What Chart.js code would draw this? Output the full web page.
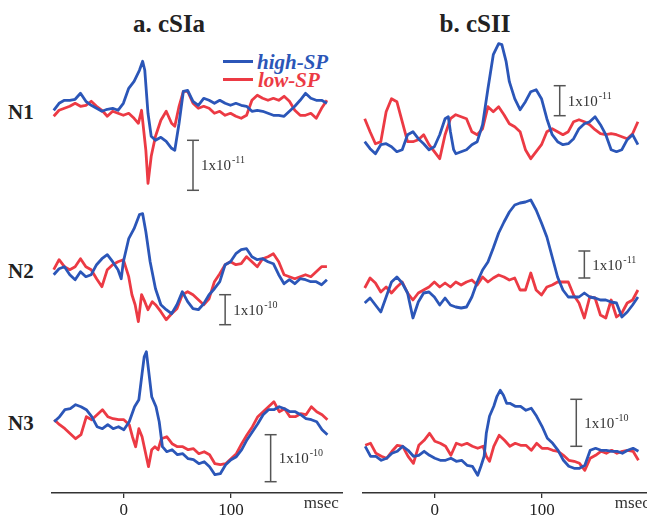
<!DOCTYPE html>
<html>
<head>
<meta charset="utf-8">
<script src="https://cdn.jsdelivr.net/npm/chart.js@4.4.1/dist/chart.umd.min.js"></script>
<style>
body{margin:0;width:647px;height:518px;overflow:hidden;background:#fff;position:relative;font-family:"Liberation Serif",serif}
.box{position:absolute}
.lab{position:absolute;font-weight:bold;color:#222;line-height:1;white-space:nowrap;transform:translateY(-50%)}
.title{position:absolute;font-weight:bold;color:#222;font-size:25px;line-height:1;white-space:nowrap;transform:translate(-50%,-50%)}
.key{position:absolute;height:2.5px;width:30px}
.keytxt{position:absolute;font-style:italic;font-weight:bold;font-size:21px;line-height:1;transform:translateY(-50%)}
</style>
</head>
<body>
<div class="title" style="left:169px;top:23px">a. cSIa</div>
<div class="title" style="left:475px;top:23px">b. cSII</div>
<div class="lab" style="left:8px;top:112px;font-size:21px">N1</div>
<div class="lab" style="left:8px;top:271px;font-size:21px">N2</div>
<div class="lab" style="left:8px;top:423px;font-size:21px">N3</div>
<div class="key" style="left:223px;top:60px;background:#2b56b8"></div>
<div class="keytxt" style="left:257px;top:62px;color:#2b56b8">high-SP</div>
<div class="key" style="left:223px;top:78px;background:#ec3a44"></div>
<div class="keytxt" style="left:258px;top:80px;color:#ec3a44">low-SP</div>
<script>
const BLUE = '#2b56b8';
const RED = '#ec3a44';

// [msec, amplitude] pairs, amplitude in each panel's own units
const n1aHigh = [[-65,-2],[-60,5],[-55,8],[-50,8],[-45,9],[-40,15],[-35,7],[-30,3],[-25,0],[-20,-3],[-15,-1],[-10,0],[-5,-2],[0,5],[5,20],[10,27],[15,38],[18,47],[20,38],[23,-5],[26,-28],[30,-32],[35,-29],[40,-33],[45,-40],[48,-42],[52,-15],[56,17],[60,18],[65,7],[70,3],[75,10],[80,8],[85,5],[90,8],[95,5],[100,3],[105,5],[110,3],[115,2],[120,-3],[125,-2],[130,-3],[135,-5],[140,-7],[145,-7],[150,-8],[155,-3],[160,2],[165,8],[170,15],[175,10],[180,8],[185,8],[190,5]];
const n1aLow = [[-65,-8],[-60,-2],[-55,0],[-50,2],[-45,5],[-40,2],[-35,3],[-30,7],[-25,2],[-20,-2],[-15,-8],[-10,-3],[-5,-5],[0,-7],[5,-5],[10,-10],[14,-15],[17,-2],[21,-42],[23,-75],[26,-48],[30,-28],[35,-12],[40,-3],[45,-15],[48,-18],[52,2],[56,17],[60,17],[65,5],[70,0],[75,2],[80,0],[85,-5],[90,-3],[95,-7],[100,-5],[105,-8],[110,-10],[115,-7],[120,8],[125,13],[130,10],[135,8],[140,10],[145,8],[150,12],[155,7],[160,-2],[165,-7],[170,-7],[175,-5],[180,-10],[185,0],[190,8]];

const n1bHigh = [[-65,0],[-60,-7],[-55,-12],[-50,-3],[-45,-2],[-40,-5],[-35,-10],[-30,-8],[-25,7],[-20,10],[-15,3],[-10,-2],[-5,-8],[0,-5],[5,7],[10,23],[13,25],[15,10],[18,-8],[20,-12],[25,-10],[30,-8],[35,-3],[40,0],[45,17],[50,53],[55,87],[60,98],[63,97],[67,80],[70,60],[75,43],[80,32],[85,40],[90,50],[95,52],[100,43],[105,23],[110,7],[115,0],[120,-3],[125,-2],[130,3],[135,13],[140,18],[145,20],[150,25],[155,17],[160,7],[165,-8],[170,-10],[175,-8],[180,2],[185,7],[190,-3]];
const n1bLow = [[-65,23],[-60,10],[-55,-2],[-50,0],[-45,30],[-40,43],[-35,40],[-30,20],[-25,0],[-20,0],[-15,2],[-10,7],[-5,-3],[0,-10],[5,-17],[10,7],[15,23],[20,27],[25,25],[30,23],[35,10],[40,7],[45,13],[50,35],[55,30],[60,35],[65,27],[70,18],[75,15],[80,10],[85,-8],[90,-17],[95,-10],[100,-3],[105,10],[110,13],[115,10],[120,7],[125,10],[130,20],[135,22],[140,20],[145,17],[150,12],[155,8],[160,7],[165,8],[170,7],[175,5],[180,3],[185,8],[190,20]];

const n2aHigh = [[-65,-3],[-60,3],[-55,5],[-50,-3],[-45,-8],[-40,0],[-35,-5],[-30,-3],[-25,7],[-20,13],[-15,17],[-10,10],[-5,2],[-2,-7],[0,10],[5,33],[10,43],[15,57],[18,58],[21,40],[25,10],[30,-17],[35,-33],[40,-38],[45,-42],[50,-33],[55,-20],[60,-30],[65,-37],[70,-38],[75,-32],[80,-23],[85,-17],[90,-10],[95,7],[100,10],[105,18],[110,22],[115,23],[120,15],[125,12],[130,13],[135,10],[140,8],[145,-3],[150,-12],[155,-8],[160,-12],[165,-7],[170,-8],[175,-10],[180,-10],[185,-13],[190,-8]];
const n2aLow = [[-65,2],[-60,12],[-55,5],[-50,2],[-45,5],[-40,13],[-35,5],[-30,2],[-25,-7],[-20,-15],[-15,2],[-10,7],[-5,10],[0,12],[5,-5],[8,-23],[11,-33],[14,-50],[17,-23],[20,-30],[23,-38],[27,-30],[30,-33],[35,-40],[40,-48],[45,-42],[50,-37],[55,-23],[60,-20],[65,-23],[70,-28],[75,-33],[80,-27],[85,-10],[90,-2],[95,7],[100,10],[105,7],[110,8],[115,15],[120,10],[125,5],[130,13],[135,15],[140,18],[145,10],[150,-3],[155,-5],[160,-7],[165,-5],[170,-3],[175,-5],[180,0],[185,5],[190,5]];

const n2bHigh = [[-65,-13],[-60,-8],[-55,-15],[-50,-22],[-45,-7],[-40,8],[-35,13],[-30,7],[-25,-3],[-20,-28],[-15,-12],[-10,-3],[-5,-2],[0,-7],[5,-15],[10,-8],[15,-15],[20,-17],[25,-18],[30,-17],[35,-7],[40,8],[45,20],[50,28],[55,42],[60,57],[65,68],[70,78],[75,85],[80,87],[85,88],[90,90],[95,80],[100,67],[105,53],[110,33],[115,13],[120,0],[125,-7],[130,-7],[135,-7],[140,-3],[145,-7],[150,-8],[155,-10],[160,-10],[165,-12],[170,-13],[175,-27],[180,-22],[185,-15],[190,-7]];
const n2bLow = [[-65,2],[-60,12],[-55,7],[-50,-2],[-45,3],[-40,-3],[-35,3],[-30,8],[-25,-3],[-20,-10],[-15,-3],[-10,0],[-5,3],[0,8],[5,3],[10,7],[15,3],[20,8],[25,5],[30,8],[35,10],[40,5],[45,13],[50,8],[55,12],[60,15],[65,13],[70,10],[75,12],[80,0],[85,0],[90,17],[95,0],[100,-5],[105,3],[110,5],[115,8],[120,8],[125,8],[130,-5],[135,-13],[140,-28],[145,-7],[150,-8],[155,-25],[160,-28],[165,-10],[170,-27],[175,-23],[180,-13],[185,-10],[190,0]];

const n3aHigh = [[-65,0],[-60,5],[-55,12],[-50,13],[-45,17],[-40,15],[-35,12],[-30,5],[-25,-5],[-20,-7],[-15,-3],[-10,-7],[-5,-5],[0,-8],[5,0],[10,15],[14,22],[17,48],[19,65],[21,70],[23,52],[26,25],[30,15],[33,0],[36,-25],[40,-30],[45,-28],[50,-33],[55,-32],[60,-37],[65,-38],[70,-42],[75,-40],[80,-45],[85,-53],[90,-52],[95,-43],[100,-38],[105,-35],[110,-28],[115,-18],[120,-10],[125,-2],[130,7],[135,12],[140,12],[145,15],[150,13],[155,10],[160,10],[165,7],[170,3],[175,2],[180,0],[185,-8],[190,-13]];
const n3aLow = [[-65,2],[-60,-3],[-55,-7],[-50,-12],[-45,-17],[-40,-13],[-35,5],[-30,2],[-25,7],[-20,12],[-15,5],[-10,3],[-5,2],[0,2],[5,-3],[8,-15],[11,-25],[14,-7],[17,-15],[20,-30],[23,-45],[26,-28],[29,-25],[32,-28],[35,-17],[40,-15],[45,-22],[50,-25],[55,-25],[60,-28],[65,-27],[70,-32],[75,-30],[80,-33],[85,-42],[90,-43],[95,-42],[100,-37],[105,-32],[110,-22],[115,-13],[120,-5],[125,5],[130,10],[135,15],[140,20],[145,10],[150,13],[155,5],[160,5],[165,8],[170,7],[175,15],[180,10],[185,7],[190,2]];

const n3bHigh = [[-65,7],[-60,-3],[-55,-3],[-50,-7],[-45,-5],[-40,0],[-35,2],[-30,7],[-25,3],[-20,-3],[-15,-2],[-10,2],[-5,-2],[0,-5],[5,-7],[10,-7],[15,-5],[20,-8],[25,-7],[30,-12],[35,-13],[40,-22],[43,-13],[46,-3],[48,20],[51,37],[55,47],[58,57],[61,63],[64,58],[67,50],[70,50],[75,47],[80,47],[85,43],[90,45],[95,37],[100,27],[105,15],[110,10],[115,3],[120,-7],[125,-13],[130,-15],[135,-15],[140,-12],[145,3],[150,5],[155,3],[160,3],[165,2],[170,2],[175,0],[180,3],[185,5],[190,2]];
const n3bLow = [[-65,8],[-60,10],[-55,0],[-50,-3],[-45,-5],[-40,2],[-35,8],[-30,7],[-25,-3],[-20,-10],[-15,8],[-10,13],[-5,20],[0,12],[5,10],[10,7],[15,-2],[20,10],[25,8],[30,10],[35,7],[40,5],[45,7],[48,-3],[51,-8],[55,7],[60,18],[65,13],[70,7],[75,10],[80,8],[85,8],[90,3],[95,10],[100,5],[105,5],[110,3],[115,2],[120,-2],[125,-7],[130,-8],[135,-10],[140,-17],[145,-5],[150,-2],[155,2],[160,0],[165,3],[170,0],[175,2],[180,3],[185,2],[190,-7]];

// scale bars: [msec, top, bottom] and exponent of the 1x10^n label
const bars = {
  n1a: [65, -32, -82, '-11'],
  n1b: [117, 56, 26, '-11'],
  n2a: [95, -23, -53, '-10'],
  n2b: [140, 39, 12, '-11'],
  n3a: [137, -13, -60, '-10'],
  n3b: [132, 54, 7, '-10']
};
const xTicks = [0, 100];

Chart.defaults.font.family = '"Liberation Serif", serif';

const barLabel = {
  id: 'barLabel',
  afterDatasetsDraw(chart, args, o) {
    const ctx = chart.ctx, xs = chart.scales.x, ys = chart.scales.y;
    const x = xs.getPixelForValue(o.t) + 8;
    const y = ys.getPixelForValue(o.mid);
    ctx.save();
    ctx.fillStyle = '#333';
    ctx.textBaseline = 'alphabetic';
    ctx.textAlign = 'left';
    ctx.font = '15px "Liberation Serif"';
    ctx.fillText('1x10', x, y + 5);
    const w = ctx.measureText('1x10').width;
    ctx.font = '10px "Liberation Serif"';
    ctx.fillText(o.exp, x + w + 1, y - 2);
    if (o.axis) {
      ctx.font = '17px "Liberation Serif"';
      ctx.fillText('msec', xs.getPixelForValue(168), xs.top + 15);
    }
    ctx.restore();
  }
};

function trace(pts, color) {
  return {
    data: pts.map(p => ({x: p[0], y: p[1]})),
    borderColor: color,
    borderWidth: 2.8,
    pointRadius: 0,
    tension: 0,
    borderJoinStyle: 'round',
    clip: false
  };
}

function panel(box, xr, yr, high, low, bar, axis) {
  const div = document.createElement('div');
  div.className = 'box';
  div.style.left = box[0] + 'px';
  div.style.top = box[1] + 'px';
  div.style.width = box[2] + 'px';
  div.style.height = box[3] + 'px';
  const cv = document.createElement('canvas');
  div.appendChild(cv);
  document.body.appendChild(div);

  new Chart(cv, {
    type: 'line',
    data: {
      datasets: [
        trace(high, BLUE),
        trace(low, RED),
        {
          data: [{x: bar[0], y: bar[1]}, {x: bar[0], y: bar[2]}],
          borderColor: '#555',
          borderWidth: 1.5,
          pointStyle: 'line',
          pointRadius: 6,
          pointBorderWidth: 1.5,
          pointBorderColor: '#555',
          clip: false
        }
      ]
    },
    options: {
      responsive: true,
      maintainAspectRatio: false,
      animation: false,
      events: [],
      layout: {padding: 0, autoPadding: false},
      plugins: {
        legend: {display: false},
        tooltip: {enabled: false},
        barLabel: {t: bar[0], mid: (bar[1] + bar[2]) / 2, exp: bar[3], axis: axis}
      },
      scales: {
        x: {
          type: 'linear',
          min: xr[0],
          max: xr[1],
          display: axis,
          afterBuildTicks: s => { s.ticks = xTicks.map(v => ({value: v})); },
          afterFit: s => { s.height = axis ? 25 : 0; },
          border: {display: true, color: '#333', width: 1.5},
          grid: {drawOnChartArea: false, drawTicks: true, tickLength: 5, color: '#333', lineWidth: 1.3},
          ticks: {color: '#222', padding: 2, font: {size: 17}, maxRotation: 0}
        },
        y: {min: yr[0], max: yr[1], display: false, afterFit: s => { s.width = 0; }}
      }
    },
    plugins: [barLabel]
  });
}

panel([43, 35, 300, 165], [-75, 205], [-91.7, 73.3], n1aHigh, n1aLow, bars.n1a, false);
panel([354, 35, 300, 165], [-75, 205], [-58.3, 106.7], n1bHigh, n1bLow, bars.n1b, false);
panel([43, 185, 300, 160], [-75, 205], [-73.3, 86.7], n2aHigh, n2aLow, bars.n2a, false);
panel([354, 185, 300, 160], [-75, 205], [-55, 105], n2bHigh, n2bLow, bars.n2b, false);
panel([50.5, 340, 292.5, 178], [-68, 205], [-71.3, 81.7], n3aHigh, n3aLow, bars.n3a, true);
panel([361.5, 340, 292.5, 178], [-68, 205], [-39.7, 113.3], n3bHigh, n3bLow, bars.n3b, true);
</script>
</body>
</html>
